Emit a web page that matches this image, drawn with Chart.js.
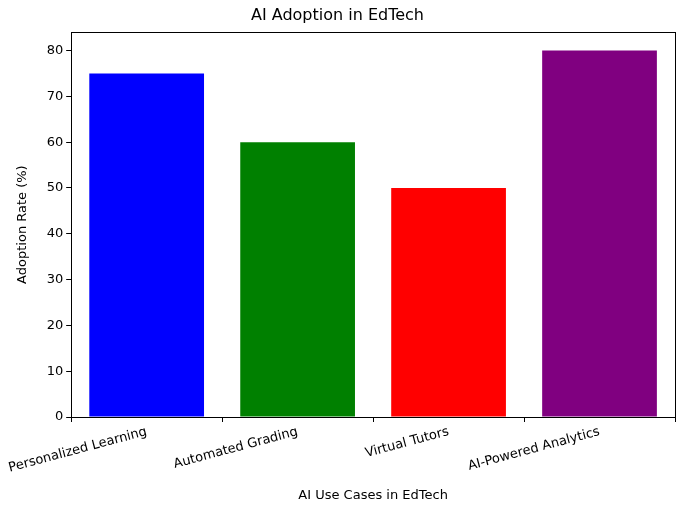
<!DOCTYPE html>
<html><head><script src="https://cdn.jsdelivr.net/npm/chart.js@4"></script>
<style>html,body{margin:0;padding:0;background:#fff}#w{width:686px;height:509px}</style></head>
<body><div id="w"><canvas id="c"></canvas></div>
<script>
const categories=["Personalized Learning","Automated Grading","Virtual Tutors","AI-Powered Analytics"];
const values=[75,60,50,80];
const colors=["blue","green","red","purple"];
const yTicks=[0,10,20,30,40,50,60,70,80];
const font="'DejaVu Sans', sans-serif";
const frame={id:'frame',afterDraw(ch){const a=ch.chartArea,c=ch.ctx;c.save();c.strokeStyle='#000';c.lineWidth=1;c.strokeRect(Math.round(a.left)+0.5,Math.round(a.top)+0.5,Math.round(a.right-a.left),Math.round(a.bottom-a.top));c.restore();}};
new Chart(document.getElementById('c'),{type:'bar',
data:{labels:categories,datasets:[{data:values,backgroundColor:colors,barPercentage:0.76,categoryPercentage:1}]},
options:{responsive:true,maintainAspectRatio:false,animation:false,
layout:{padding:{left:0,right:11,top:0,bottom:6}},
plugins:{legend:{display:false},tooltip:{enabled:false},
title:{display:true,text:'AI Adoption in EdTech',color:'#000',font:{family:font,size:16,weight:'normal'},padding:{top:6,bottom:7}}},
scales:{
x:{grid:{display:true,drawOnChartArea:false,tickLength:5,color:'#000'},border:{display:false},
ticks:{color:'#000',font:{family:font,size:13},minRotation:15,maxRotation:15,padding:2},
title:{display:true,text:'AI Use Cases in EdTech',color:'#000',font:{family:font,size:13},padding:{top:6,bottom:0}},
afterFit(s){s.height=86;}},
y:{min:0,max:84,afterBuildTicks(s){s.ticks=yTicks.map(v=>({value:v}));},
grid:{display:true,drawOnChartArea:false,tickLength:5,color:'#000'},border:{display:false},
ticks:{color:'#000',font:{family:font,size:13},padding:3},
title:{display:true,text:'Adoption Rate (%)',color:'#000',font:{family:font,size:13},padding:{top:0,bottom:6}},
afterFit(s){s.width=56;}}}},
plugins:[frame]});
</script></body></html>
